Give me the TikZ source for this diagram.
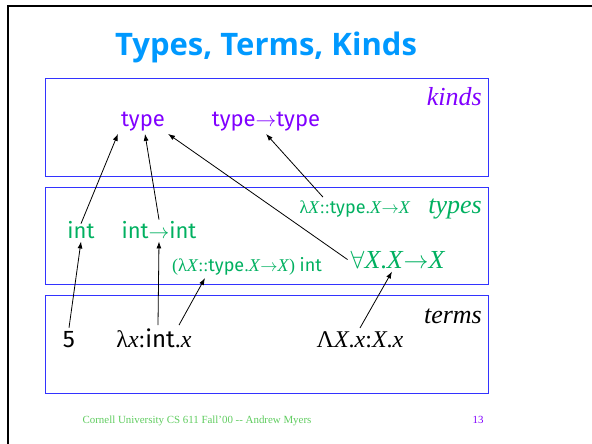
\documentclass[tikz,border=0pt]{standalone}
\usepackage{fontspec}
\setmainfont{Liberation Serif}
\setsansfont{Fira Sans}
\newfontfamily\titlefont{Open Sans}
\usetikzlibrary{arrows.meta}
\definecolor{slblue}{HTML}{0099FF}
\definecolor{slpurple}{HTML}{8000FF}
\definecolor{slgreen}{HTML}{00B060}
\definecolor{slframe}{HTML}{3333FF}
\definecolor{slfoot}{HTML}{5FCC5F}
\newcommand{\ty}{\textsf{type}}
\newcommand{\tin}{\textsf{int}}
\newcommand{\ar}{$\rightarrow$}
\newcommand{\vX}{\textit{X}}
\newcommand{\vx}{\textit{x}}

\begin{document}
\begin{tikzpicture}[x=1pt,y=-1pt,
  lvl/.style={draw=slframe, line width=1pt},
  tag/.style={anchor=base east, font=\fontsize{26}{30}\selectfont\itshape, inner sep=0pt},
  big/.style={anchor=base, font=\fontsize{22}{26}\selectfont, inner sep=3pt},
  small/.style={anchor=base, font=\fontsize{18}{21}\selectfont, inner sep=3pt},
  link/.style={-{Latex[length=7pt,width=5pt]}, line width=0.8pt}]
  \def\bL{45}\def\bR{488}
  \useasboundingbox (0,0) rectangle (592,444);
  % slide frame
  \draw[line width=2.5pt] (8,444) -- (8,6) -- (592,6);
  \node[anchor=base, text=slblue, font=\titlefont\bfseries\fontsize{31}{36}\selectfont] (title) at (266,56) {Types, Terms, Kinds};
  % levels
  \draw[lvl] (\bL,79) rectangle (\bR,176);
  \draw[lvl] (\bL,187) rectangle (\bR,284);
  \draw[lvl] (\bL,295) rectangle (\bR,393);
  % kinds
  \node[tag, text=slpurple] (kinds) at (482,106) {kinds};
  \node[big, text=slpurple] (type) at (143,126) {\ty};
  \node[big, text=slpurple] (typetype) at (266,126) {\ty\ar\ty};
  % types
  \node[tag, text=slgreen] (types) at (482,213) {types};
  \node[small, text=slgreen] (tlam) at (355,213) {λ\vX::\ty.\vX\ar\vX};
  \node[big, text=slgreen] (int) at (81,238) {\tin};
  \node[big, text=slgreen] (intint) at (159,238) {\tin\ar\tin};
  \node[small, text=slgreen] (app) at (247,271) {(λ\vX::\ty.\vX\ar\vX) \tin};
  \node[anchor=base, text=slgreen, font=\fontsize{26}{30}\selectfont, inner sep=3pt] (forall) at (398,268) {$\forall$\vX.\vX\ar\vX};
  % terms
  \node[tag] (terms) at (482,323) {terms};
  \node[big, font=\fontsize{24}{28}\selectfont] (five) at (69,347) {\textsf{5}};
  \node[big, font=\fontsize{24}{28}\selectfont] (lam) at (154,347) {λ\vx:\tin.\vx};
  \node[big, font=\fontsize{24}{28}\selectfont] (biglam) at (360,347) {Λ\vX.\vx:\vX.\vx};
  % footer
  \node[anchor=base, text=slfoot, font=\fontsize{10.9}{12}\selectfont] (foot) at (197,423) {Cornell University CS 611 Fall'00 -{}- Andrew Myers};
  \node[anchor=base, text=slpurple, font=\fontsize{10.9}{12}\selectfont] (page) at (478,423) {13};
  % arrows
  \draw[link] ([yshift=-6pt]int.north) -- (type.south west);
  \draw[link] ([yshift=-2pt]intint.north) -- ([xshift=2pt]type.south);
  \draw[link] (forall.west) -- (type.south east);
  \draw[link] ([xshift=-32pt]tlam.north) -- (typetype.south);
  \draw[link] (five.north) -- (int.south);
  \draw[link] ([xshift=4pt]lam.north) -- (intint.south);
  \draw[link] ([xshift=25pt]lam.north) -- ([xshift=-42pt]app.south);
  \draw[link] (biglam.north) -- ([xshift=-6pt]forall.south);
\end{tikzpicture}
\end{document}
